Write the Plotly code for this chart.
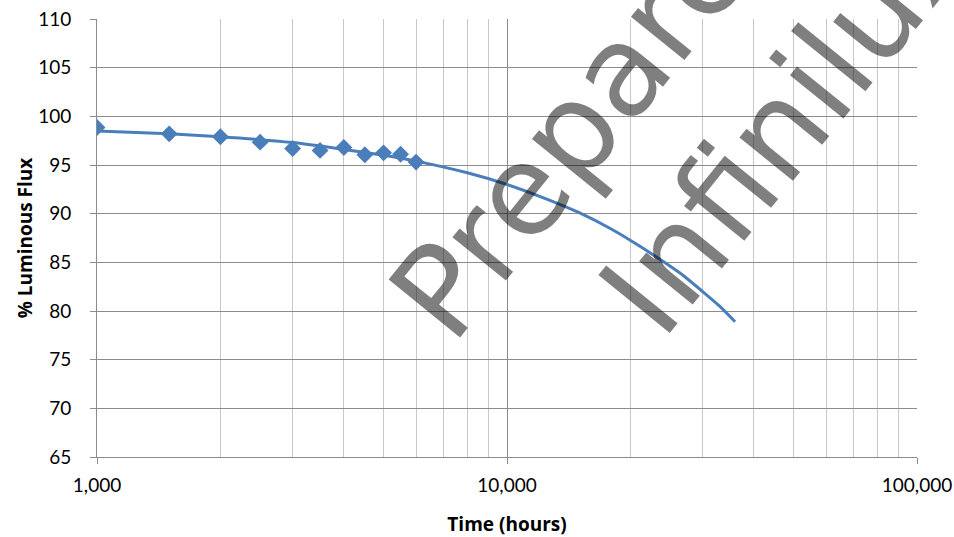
import plotly.graph_objects as go

# Measured data (markers)
hours_meas = [1000, 1500, 2000, 2500, 3000, 3500, 4000, 4500, 5000, 5500, 6000]
flux_meas = [98.85, 98.2, 97.9, 97.35, 96.7, 96.5, 96.8, 96.05, 96.25, 96.1, 95.3]

# Projection curve
hours_fit = [1000, 1500, 2000, 3000, 4000, 5000, 6000, 8000, 10000, 12500, 15000,
             18000, 21000, 24000, 27000, 30000, 33000, 36000]
flux_fit = [98.5, 98.2, 97.9, 97.3, 96.6, 96.0, 95.4, 94.2, 93.0, 91.5, 90.1,
            88.4, 86.7, 85.1, 83.6, 82.0, 80.5, 78.9]

x_tick_vals = [1000, 10000, 100000]
x_tick_text = ["1,000", "10,000", "100,000"]
x_minor_vals = [m * d for d in (1000, 10000) for m in range(2, 10)]

BLUE = "#4A7EBB"
MAJOR = "#8C8C8C"
MINOR = "#C8C8C8"
FONT = "Lato"
TFONT = "Open Sans"

fig = go.Figure()
fig.add_trace(go.Scatter(
    x=hours_fit, y=flux_fit, mode="lines",
    line=dict(color=BLUE, width=3, shape="spline", smoothing=0.6),
    hoverinfo="skip", showlegend=False))
fig.add_trace(go.Scatter(
    x=hours_meas, y=flux_meas, mode="markers",
    marker=dict(symbol="diamond", size=13, color=BLUE),
    showlegend=False))

wm_color = "rgba(0,0,0,0.5)"
fig.add_annotation(text="Prepared", xref="paper", yref="paper", x=0.6084, y=0.8139,
                   xanchor="center", yanchor="middle", showarrow=False, textangle=-51,
                   font=dict(family="DejaVu Sans", size=126, color=wm_color))
fig.add_annotation(text="Infinilux", xref="paper", yref="paper", x=0.8398, y=0.7694,
                   xanchor="center", yanchor="middle", showarrow=False, textangle=-51,
                   font=dict(family="DejaVu Sans", size=126, color=wm_color))

fig.update_layout(
    width=954, height=537,
    margin=dict(l=97, r=37, t=19, b=80, autoexpand=False),
    paper_bgcolor="white", plot_bgcolor="white",
    font=dict(family=FONT, size=19, color="black"),
)
fig.update_xaxes(
    type="log", range=[3, 5],
    tickvals=x_tick_vals, ticktext=x_tick_text,
    ticks="outside", ticklen=6, tickcolor=MAJOR,
    showline=True, linecolor=MAJOR, linewidth=1,
    showgrid=True, gridcolor=MAJOR, gridwidth=1,
    minor=dict(tickvals=x_minor_vals, showgrid=True, gridcolor=MINOR, gridwidth=1, ticks=""),
    title=dict(text="<b>Time (hours)</b>", font=dict(family=TFONT, size=19), standoff=27),
    tickfont=dict(family=FONT, size=19),
    ticklabelstandoff=5,
    automargin=False,
    zeroline=False,
)
fig.update_yaxes(
    range=[65, 110], dtick=5, tick0=65,
    ticks="outside", ticklen=6, tickcolor=MAJOR,
    showline=True, linecolor=MAJOR, linewidth=1,
    showgrid=True, gridcolor=MAJOR, gridwidth=1,
    title=dict(text="<b>% Luminous Flux</b>", font=dict(family=TFONT, size=19), standoff=0),
    tickfont=dict(family=FONT, size=19),
    ticklabelstandoff=15,
    automargin=False,
    zeroline=False,
)

fig.write_html("out.html", config={"displayModeBar": False},
               post_script="document.body.style.margin='0px';document.body.style.overflow='hidden';")
